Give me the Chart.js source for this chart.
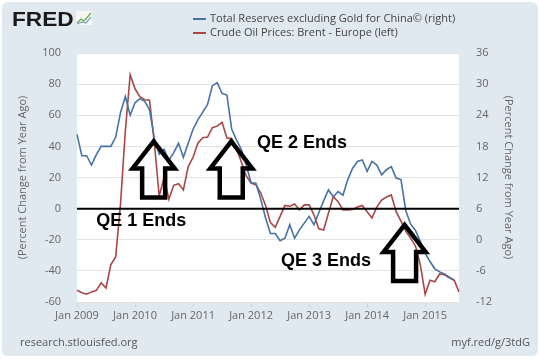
<!DOCTYPE html>
<html>
<head>
<meta charset="utf-8">
<script src="https://cdn.jsdelivr.net/npm/chart.js@4.4.0/dist/chart.umd.min.js"></script>
<style>
  html, body { margin: 0; padding: 0; background: #fff; }
  canvas { display: block; }
</style>
</head>
<body>
<canvas id="fred" width="540" height="359"></canvas>
<script>
// monthly, Jan 2009 .. Aug 2015
const firstYear = 2009;
const monthCount = 80;
const monthNames = ["Jan", "Feb", "Mar", "Apr", "May", "Jun", "Jul", "Aug", "Sep", "Oct", "Nov", "Dec"];
const tickLabels = ["Jan 2009", "Jan 2010", "Jan 2011", "Jan 2012", "Jan 2013", "Jan 2014", "Jan 2015"];

// Crude Oil Prices: Brent - Europe, % change from year ago (left axis)
const oilBrent = [
  -52.5, -54, -55, -53.5, -52.5, -47.7, -51, -36, -31, 3,
  50, 86, 77, 72, 70, 69.7, 42, 8, 20, 6,
  15, 16, 12, 27, 33, 42, 45.5, 46, 52, 53,
  55.5, 45.4, 45, 38, 30, 21, 16.4, 15.3, 10, 2,
  -9, -12, -5, 2, 1.5, 3, -0.8, 2.4, 2.4, -4,
  -13, -13.7, -3, 7.7, 4.5, -0.8, -0.8, -0.5, 1, 2,
  -2, -6, 1, 5.5, 7.5, 8.8, -2, -8, -14.5, -19,
  -24, -36, -55, -46, -47, -42, -42.5, -44.5, -46, -53.5
];

// Total Reserves excluding Gold for China, % change from year ago (right axis)
const chinaReserves = [
  20.3, 16.2, 16.2, 14.4, 16.4, 18, 18, 18, 19.8, 24.5,
  27.6, 24, 26.4, 27.2, 26.7, 25.1, 19.5, 16.5, 17.4, 15.3,
  16.8, 18.6, 15.9, 18.6, 21.3, 23.1, 24.6, 26.1, 29.7, 30.3,
  28.2, 27.9, 21.3, 19.2, 17.4, 14.4, 11, 10.9, 7.8, 4.2,
  1.2, 1.2, -0.2, 0.3, 2.9, 0.3, 1.9, 3.2, 4.5, 2.9,
  5.2, 7.5, 9.6, 8.3, 9.3, 8.6, 11.6, 13.8, 15.1, 15.4,
  13.2, 15.1, 14.4, 12.5, 13.5, 14.1, 11.9, 11.6, 5.6, 3,
  1.8, -0.3, -2.6, -4.2, -5.6, -6.2, -6.6, -7.2, -7.8
];

const seriesNames = [
  "Total Reserves excluding Gold for China\u00a9 (right)",
  "Crude Oil Prices: Brent - Europe (left)"
];
const qeNotes = ["QE 1 Ends", "QE 2 Ends", "QE 3 Ends"];

const months = [];
for (let i = 0; i < monthCount; i++) {
  months.push(monthNames[i % 12] + " " + (firstYear + Math.floor(i / 12)));
}

// where the hand-drawn notes sit: [month index, left-axis value]
const noteText = [[4.0, -7.9], [37.2, 42.4], [42.2, -33.7]];
const noteArrow = [[15.85, 43.2], [31.9, 43.2], [67.75, -10.5]];

const BLUE = "#4572a7";
const RED = "#aa4643";
const GREY_TEXT = "#666666";
const FONT = "'Open Sans', 'DejaVu Sans', sans-serif";

function drawArrow(ctx, x, y) {
  const hw = 21, sw = 11.5, hh = 27, len = 56;
  ctx.beginPath();
  ctx.moveTo(x, y);
  ctx.lineTo(x + hw, y + hh);
  ctx.lineTo(x + sw, y + hh);
  ctx.lineTo(x + sw, y + len);
  ctx.lineTo(x - sw, y + len);
  ctx.lineTo(x - sw, y + hh);
  ctx.lineTo(x - hw, y + hh);
  ctx.closePath();
  ctx.stroke();
}

const fredDecor = {
  id: "fredDecor",
  beforeDraw(chart) {
    const { ctx, chartArea: a } = chart;
    ctx.save();
    ctx.fillStyle = "#ffffff";
    ctx.fillRect(0, 0, chart.width, chart.height);
    ctx.fillStyle = "#e1e9f0";
    ctx.beginPath();
    ctx.roundRect(2, 2, chart.width - 4, chart.height - 5, 6);
    ctx.fill();
    ctx.fillStyle = "#ffffff";
    ctx.fillRect(a.left, a.top, a.right - a.left, a.bottom - a.top);
    ctx.restore();
  },
  afterDatasetsDraw(chart) {
    const { ctx, chartArea: a, scales } = chart;
    const x = scales.x, y = scales.y;
    ctx.save();
    // zero line
    ctx.strokeStyle = "#000";
    ctx.lineWidth = 2;
    ctx.beginPath();
    ctx.moveTo(a.left, y.getPixelForValue(0));
    ctx.lineTo(a.right, y.getPixelForValue(0));
    ctx.stroke();
    // arrows
    ctx.lineWidth = 4.5;
    ctx.lineJoin = "miter";
    noteArrow.forEach(([m, v]) => drawArrow(ctx, x.getPixelForValue(m), y.getPixelForValue(v)));
    // notes
    ctx.fillStyle = "#000";
    ctx.font = "bold 18px 'Liberation Sans', Arial, sans-serif";
    ctx.textBaseline = "middle";
    ctx.textAlign = "left";
    qeNotes.forEach((t, i) => {
      ctx.fillText(t, x.getPixelForValue(noteText[i][0]), y.getPixelForValue(noteText[i][1]));
    });
    ctx.restore();
  },
  afterDraw(chart) {
    const { ctx } = chart;
    ctx.save();
    // FRED logo
    ctx.fillStyle = "#1a1a1a";
    ctx.font = "bold 21px 'Liberation Sans', Arial, sans-serif";
    ctx.textBaseline = "alphabetic";
    ctx.save();
    ctx.translate(12, 26);
    ctx.scale(1.08, 1);
    ctx.fillText("FRED", 0, 0);
    ctx.restore();
    ctx.fillStyle = "#f4f7f2";
    ctx.fillRect(76, 11, 16, 14);
    ctx.strokeStyle = "#6aa84f";
    ctx.lineWidth = 1.2;
    ctx.beginPath();
    ctx.moveTo(77, 23); ctx.lineTo(81, 19); ctx.lineTo(84, 21); ctx.lineTo(91, 13);
    ctx.stroke();
    ctx.strokeStyle = "#7fa3c8";
    ctx.beginPath();
    ctx.moveTo(77, 24); ctx.lineTo(82, 22); ctx.lineTo(86, 23); ctx.lineTo(91, 17);
    ctx.stroke();

    // legend
    ctx.font = "11px " + FONT;
    ctx.textBaseline = "middle";
    ctx.fillStyle = "#444";
    [BLUE, RED].forEach((c, i) => {
      const ly = 19 + i * 14;
      ctx.strokeStyle = c;
      ctx.lineWidth = 2;
      ctx.beginPath();
      ctx.moveTo(193, ly);
      ctx.lineTo(206, ly);
      ctx.stroke();
      ctx.fillText(seriesNames[i], 210, ly);
    });

    // footer
    ctx.fillStyle = "#555";
    ctx.font = "11px " + FONT;
    ctx.textAlign = "left";
    ctx.fillText("research.stlouisfed.org", 20, 343);
    ctx.textAlign = "right";
    ctx.fillText("myf.red/g/3tdG", 530, 343);
    ctx.restore();
  }
};

new Chart(document.getElementById("fred"), {
  type: "line",
  data: {
    labels: months,
    datasets: [
      {
        label: seriesNames[0],
        data: chinaReserves,
        yAxisID: "y1",
        borderColor: BLUE,
        borderWidth: 1.6,
        pointRadius: 0,
        tension: 0,
      },
      {
        label: seriesNames[1],
        data: oilBrent,
        yAxisID: "y",
        borderColor: RED,
        borderWidth: 1.6,
        pointRadius: 0,
        tension: 0,
      },
    ],
  },
  options: {
    responsive: false,
    animation: false,
    layout: { padding: { left: 12, right: 21, top: 53, bottom: 0 } },
    plugins: {
      legend: { display: false },
      tooltip: { enabled: false },
    },
    scales: {
      x: {
        type: "category",
        offset: false,
        grid: { drawOnChartArea: false, drawTicks: true, tickLength: 5, color: "#c8d2dc" },
        border: { display: false },
        ticks: {
          autoSkip: false,
          maxRotation: 0,
          padding: 2,
          color: GREY_TEXT,
          font: { family: FONT, size: 11 },
          callback: (v, i) => (tickLabels.includes(months[i]) ? months[i] : null),
        },
        afterFit: (s) => { s.height = 57; },
      },
      y: {
        position: "left",
        min: -60,
        max: 100,
        ticks: { stepSize: 20, padding: 16, color: GREY_TEXT, font: { family: FONT, size: 11 } },
        grid: { color: "#e4e4e4", drawTicks: false },
        border: { display: false },
        title: {
          display: true,
          text: "(Percent Change from Year Ago)",
          color: GREY_TEXT,
          font: { family: FONT, size: 11 },
          padding: { top: 4, bottom: 4 },
        },
        afterFit: (s) => { s.width = 65; },
      },
      y1: {
        position: "right",
        min: -12,
        max: 36,
        ticks: { stepSize: 6, padding: 17, color: GREY_TEXT, font: { family: FONT, size: 11 } },
        grid: { drawOnChartArea: false, drawTicks: false },
        border: { display: false },
        title: {
          display: true,
          text: "(Percent Change from Year Ago)",
          color: GREY_TEXT,
          font: { family: FONT, size: 11 },
          padding: { top: 4, bottom: 4 },
        },
        afterFit: (s) => { s.width = 60; },
      },
    },
  },
  plugins: [fredDecor],
});
</script>
</body>
</html>
